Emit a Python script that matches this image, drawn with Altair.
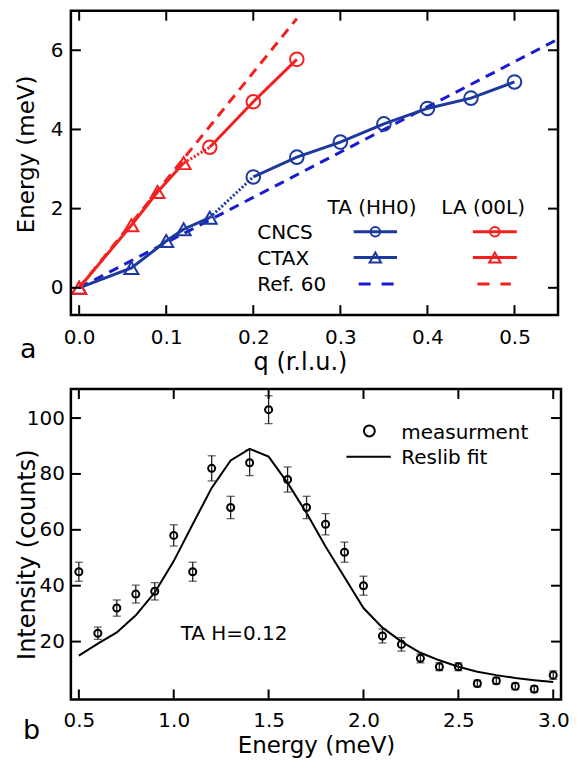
import altair as alt
import pandas as pd

FONT = "DejaVu Sans"
BLUE = "#1c3a9e"
BLUE_REF = "#1a1ad2"
RED = "#f42020"
BLACK = "#000000"

# ---------------- panel a : dispersion ----------------
ta_cncs_q = [0.20, 0.25, 0.30, 0.35, 0.40, 0.45, 0.50]
ta_cncs_e = [2.80, 3.30, 3.68, 4.14, 4.53, 4.79, 5.20]
ta_ctax_q = [0.00, 0.06, 0.10, 0.12, 0.15]
ta_ctax_e = [0.00, 0.50, 1.18, 1.48, 1.77]
ta_ref_q = [0.00, 0.55]
ta_ref_e = [0.00, 6.28]
la_cncs_q = [0.15, 0.20, 0.25]
la_cncs_e = [3.55, 4.70, 5.77]
la_ctax_q = [0.00, 0.06, 0.09, 0.12]
la_ctax_e = [0.00, 1.58, 2.42, 3.15]
la_ref_q = [0.00, 0.25]
la_ref_e = [0.00, 6.80]
a_xticks = [0.0, 0.1, 0.2, 0.3, 0.4, 0.5]
a_yticks = [0, 2, 4, 6]

# ---------------- panel b : energy scan ----------------
energy = [0.5, 0.6, 0.7, 0.8, 0.9, 1.0, 1.1, 1.2, 1.3, 1.4, 1.5, 1.6, 1.7,
          1.8, 1.9, 2.0, 2.1, 2.2, 2.3, 2.4, 2.5, 2.6, 2.7, 2.8, 2.9, 3.0]
counts = [45, 23, 32, 37, 38, 58, 45, 82, 68, 84, 103, 78, 68,
          62, 52, 40, 22, 19, 14, 11, 11, 5, 6, 4, 3, 8]
errors = [3.4, 2.2, 2.9, 3.2, 3.1, 3.8, 3.4, 4.5, 4.0, 4.6, 5.0, 4.5, 4.0,
          3.8, 3.6, 3.4, 2.5, 2.4, 1.6, 1.4, 1.4, 1.2, 1.2, 1.2, 1.2, 1.5]
fit = [15, 19.3, 23.3, 29.4, 37.6, 48.8, 62, 75, 84.8, 89, 86.2, 76.8, 66,
       54, 43, 32, 25, 20, 16, 13.3, 11, 9.2, 8, 7, 6.2, 5.5]
b_xticks = [0.5, 1.0, 1.5, 2.0, 2.5, 3.0]
b_yticks = [20, 40, 60, 80, 100]

one = pd.DataFrame({"d": [0]})


def txt(s, x, y, size=20, align="left", angle=0):
    return alt.Chart(one).mark_text(
        fontSize=size, font=FONT, align=align, baseline="alphabetic",
        angle=angle, color=BLACK
    ).encode(x=alt.value(x), y=alt.value(y), text=alt.value(s))


def seg(x1, x2, y, color, width=3, dash=None):
    kw = dict(color=color, strokeWidth=width)
    if dash:
        kw["strokeDash"] = dash
    return alt.Chart(one).mark_rule(**kw).encode(
        x=alt.value(x1), x2=alt.value(x2), y=alt.value(y))


def sym(x, y, shape, color, size, width=2):
    return alt.Chart(one).mark_point(
        shape=shape, filled=False, size=size, strokeWidth=width,
        color=color, opacity=1
    ).encode(x=alt.value(x), y=alt.value(y))


def frame(w, h):
    return alt.Chart(one).mark_rect(
        filled=False, color=BLACK, strokeWidth=2.5
    ).encode(x=alt.value(0), x2=alt.value(w), y=alt.value(0), y2=alt.value(h))


# ---------------- panel a chart ----------------
W1, H1 = 488, 305
xa_scale = alt.Scale(domain=[-0.0095, 0.55], nice=False, zero=False)
ya_scale = alt.Scale(domain=[-0.69, 7.0], nice=False, zero=False)
xa_axis = alt.Axis(values=a_xticks, format=".1f", ticks=False, tickSize=0,
                   domain=False, grid=False, labelFontSize=20, labelFont=FONT,
                   labelColor=BLACK, labelPadding=12)
ya_axis = alt.Axis(values=a_yticks, format="d", ticks=False, tickSize=0,
                   domain=False, grid=False, labelFontSize=20, labelFont=FONT,
                   labelColor=BLACK, labelPadding=8)
XA = alt.X("q:Q", scale=xa_scale, axis=xa_axis, title=None)
YA = alt.Y("E:Q", scale=ya_scale, axis=ya_axis, title=None)


def dfa(qs, es):
    return pd.DataFrame({"q": qs, "E": es})


def series(qs, es, color, shape, size):
    d = dfa(qs, es)
    ln = alt.Chart(d).mark_line(color=color, strokeWidth=3).encode(x=XA, y=YA)
    pt = alt.Chart(d).mark_point(shape=shape, filled=False, size=size,
                                 strokeWidth=2, color=color, opacity=1).encode(x=XA, y=YA)
    return [ln, pt]


a_layers = []
a_layers.append(alt.Chart(dfa(ta_ref_q, ta_ref_e)).mark_line(
    color=BLUE_REF, strokeWidth=3, strokeDash=[10, 7], clip=True).encode(x=XA, y=YA))
a_layers.append(alt.Chart(dfa(la_ref_q, la_ref_e)).mark_line(
    color=RED, strokeWidth=3, strokeDash=[10, 7]).encode(x=XA, y=YA))
a_layers.append(alt.Chart(dfa([ta_ctax_q[-1], ta_cncs_q[0]], [ta_ctax_e[-1], ta_cncs_e[0]])).mark_line(
    color=BLUE, strokeWidth=3, strokeDash=[2, 2]).encode(x=XA, y=YA))
a_layers.append(alt.Chart(dfa([la_ctax_q[-1], la_cncs_q[0]], [la_ctax_e[-1], la_cncs_e[0]])).mark_line(
    color=RED, strokeWidth=3, strokeDash=[2, 2]).encode(x=XA, y=YA))
a_layers += series(ta_cncs_q, ta_cncs_e, BLUE, "circle", 185)
a_layers += series(ta_ctax_q, ta_ctax_e, BLUE, "triangle-up", 195)
a_layers += series(la_cncs_q, la_cncs_e, RED, "circle", 185)
a_layers += series(la_ctax_q, la_ctax_e, RED, "triangle-up", 195)

# frame and inward ticks (mirrored on all four sides)
tq = pd.DataFrame({"q": a_xticks})
te = pd.DataFrame({"E": a_yticks})
a_layers += [
    frame(W1, H1),
    alt.Chart(tq).mark_rule(color=BLACK, strokeWidth=2).encode(
        x=XA, y=alt.value(H1), y2=alt.value(H1 - 10)),
    alt.Chart(tq).mark_rule(color=BLACK, strokeWidth=2).encode(
        x=XA, y=alt.value(0), y2=alt.value(10)),
    alt.Chart(te).mark_rule(color=BLACK, strokeWidth=2).encode(
        y=YA, x=alt.value(0), x2=alt.value(10)),
    alt.Chart(te).mark_rule(color=BLACK, strokeWidth=2).encode(
        y=YA, x=alt.value(W1), x2=alt.value(W1 - 10)),
]

# legend of panel a
a_layers += [
    txt("TA (HH0)", 301.7, 203.4, align="center"),
    txt("LA (00L)", 413, 203.4, align="center"),
    txt("CNCS", 186.7, 228.8),
    txt("CTAX", 186.7, 254.6),
    txt("Ref. 60", 186.7, 280.4),
    seg(283.3, 326.7, 221.5, BLUE), sym(305, 221.5, "circle", BLUE, 90),
    seg(402.7, 446.7, 221.5, RED), sym(424.7, 221.5, "circle", RED, 90),
    seg(283.3, 326.7, 247.3, BLUE), sym(305, 247.3, "triangle-up", BLUE, 130),
    seg(402.7, 446.7, 247.3, RED), sym(424.7, 247.3, "triangle-up", RED, 130),
    seg(288.3, 323.3, 273.8, BLUE_REF, dash=[12, 11]),
    seg(407.3, 440.7, 273.8, RED, dash=[12, 11]),
    txt("Energy (meV)", -37, 144, size=23, align="center", angle=270),
    txt("q (r.l.u.)", 230, H1 + 55, size=24, align="center"),
    txt("a", -42.7, H1 + 43, size=27, align="center"),
]

panel_a = alt.layer(*a_layers).properties(width=W1, height=H1)

# ---------------- panel b chart ----------------
W2, H2 = 491, 311
xb_scale = alt.Scale(domain=[0.458, 3.041], nice=False, zero=False)
yb_scale = alt.Scale(domain=[-0.7, 110.4], nice=False, zero=False)
xb_axis = alt.Axis(values=b_xticks, format=".1f", ticks=False, tickSize=0,
                   domain=False, grid=False, labelFontSize=20, labelFont=FONT,
                   labelColor=BLACK, labelPadding=11)
yb_axis = alt.Axis(values=b_yticks, format="d", ticks=False, tickSize=0,
                   domain=False, grid=False, labelFontSize=20, labelFont=FONT,
                   labelColor=BLACK, labelPadding=6.5)
XB = alt.X("en:Q", scale=xb_scale, axis=xb_axis, title=None)
YB = alt.Y("I:Q", scale=yb_scale, axis=yb_axis, title=None)
YLO = alt.Y("lo:Q", scale=yb_scale, axis=yb_axis, title=None)
YHI = alt.Y("hi:Q", scale=yb_scale, axis=yb_axis, title=None)

scan = pd.DataFrame({"en": energy, "I": counts, "err": errors})
scan["lo"] = scan["I"] - scan["err"]
scan["hi"] = scan["I"] + scan["err"]
fitdf = pd.DataFrame({"en": energy, "I": fit})

b_layers = [
    alt.Chart(fitdf).mark_line(color=BLACK, strokeWidth=2).encode(x=XB, y=YB),
    alt.Chart(scan).mark_rule(color="#222222", strokeWidth=1.3).encode(
        x=XB, y=YLO, y2="hi:Q"),
    alt.Chart(scan).mark_tick(color="#222222", orient="horizontal", size=8,
                              thickness=1.3).encode(x=XB, y=YLO),
    alt.Chart(scan).mark_tick(color="#222222", orient="horizontal", size=8,
                              thickness=1.3).encode(x=XB, y=YHI),
    alt.Chart(scan).mark_point(shape="circle", filled=False, size=50, strokeWidth=2,
                               color=BLACK, opacity=1).encode(x=XB, y=YB),
]
tb = pd.DataFrame({"en": b_xticks})
tbi = pd.DataFrame({"I": b_yticks})
b_layers += [
    frame(W2, H2),
    alt.Chart(tb).mark_rule(color=BLACK, strokeWidth=2).encode(
        x=XB, y=alt.value(H2), y2=alt.value(H2 - 10)),
    alt.Chart(tb).mark_rule(color=BLACK, strokeWidth=2).encode(
        x=XB, y=alt.value(0), y2=alt.value(10)),
    alt.Chart(tbi).mark_rule(color=BLACK, strokeWidth=2).encode(
        y=YB, x=alt.value(0), x2=alt.value(10)),
    alt.Chart(tbi).mark_rule(color=BLACK, strokeWidth=2).encode(
        y=YB, x=alt.value(W2), x2=alt.value(W2 - 10)),
]
b_layers += [
    sym(299, 42, "circle", BLACK, 120),
    txt("measurment", 331, 49.7),
    seg(276, 320.5, 67.9, BLACK, width=2),
    txt("Reslib fit", 331, 75.2),
    txt("TA H=0.12", 110, 251.5),
    txt("Intensity (counts)", -36, 166, size=24, align="center", angle=270),
    txt("Energy (meV)", 246, H2 + 53.5, size=23, align="center"),
    txt("b", -39.3, H2 + 40, size=27, align="center"),
]

panel_b = alt.layer(*b_layers).properties(width=W2, height=H2)

chart = alt.vconcat(panel_a, panel_b, spacing=74, bounds="flush").properties(
    padding={"left": 7, "top": 0, "right": 0, "bottom": 0}
).configure_view(strokeWidth=0)

chart.save("out.html", embed_options={"renderer": "svg", "actions": False})
